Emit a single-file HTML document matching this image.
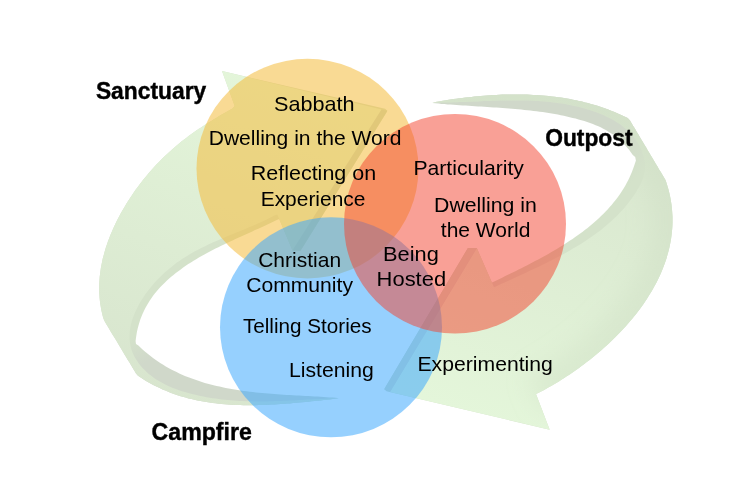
<!DOCTYPE html>
<html><head><meta charset="utf-8"><style>
html,body{margin:0;padding:0;background:#fff;width:750px;height:503px;overflow:hidden}
svg{display:block}
text{font-family:"Liberation Sans",sans-serif;fill:#000}
</style></head><body>
<svg width="750" height="503" viewBox="0 0 750 503">
<defs>
<linearGradient id="gR" gradientUnits="userSpaceOnUse" x1="600" y1="100" x2="480" y2="420">
<stop offset="0" stop-color="#d8e5ce"/><stop offset="1" stop-color="#e4f6da"/>
</linearGradient>
<linearGradient id="bR" gradientUnits="userSpaceOnUse" x1="610" y1="135" x2="645" y2="170">
<stop offset="0" stop-color="#d0d8ca"/><stop offset="1" stop-color="#d4e2ca"/>
</linearGradient>
<linearGradient id="gL" gradientUnits="userSpaceOnUse" x1="171.6" y1="400" x2="291.6" y2="80">
<stop offset="0" stop-color="#d8e5ce"/><stop offset="1" stop-color="#e4f6da"/>
</linearGradient>
<linearGradient id="bL" gradientUnits="userSpaceOnUse" x1="150" y1="360" x2="135" y2="335">
<stop offset="0" stop-color="#d0d8ca"/><stop offset="1" stop-color="#d4e2ca"/>
</linearGradient>
<clipPath id="cR"><path d="M432.4,103.1 L435.4,102.0 L438.4,101.5 L441.3,101.0 L444.3,100.5 L447.3,100.0 L450.3,99.6 L453.3,99.1 L456.3,98.7 L459.3,98.3 L462.3,97.9 L465.4,97.6 L468.4,97.2 L471.5,96.9 L474.5,96.5 L477.6,96.2 L480.7,96.0 L483.8,95.7 L486.8,95.5 L489.9,95.3 L493.0,95.1 L496.1,94.9 L499.2,94.8 L502.3,94.6 L505.4,94.6 L508.5,94.5 L511.6,94.4 L514.7,94.4 L517.8,94.4 L520.9,94.5 L524.0,94.5 L527.1,94.6 L530.2,94.7 L533.3,94.9 L536.4,95.1 L539.5,95.3 L542.6,95.5 L545.7,95.8 L548.7,96.1 L551.8,96.4 L554.9,96.8 L557.9,97.2 L561.0,97.6 L564.0,98.1 L567.0,98.6 L570.0,99.1 L573.0,99.7 L576.0,100.3 L579.0,100.9 L582.0,101.6 L585.0,102.4 L587.9,103.1 L590.9,103.9 L593.8,104.8 L596.7,105.6 L599.6,106.6 L602.5,107.5 L605.4,108.5 L608.2,109.6 L611.1,110.7 L613.9,111.8 L616.7,113.0 L619.5,114.2 L622.3,115.5 L625.0,116.8 L627.7,118.1 L630.0,120.5 L631.6,123.2 L633.2,125.9 L634.9,128.6 L636.5,131.4 L638.1,134.1 L639.7,136.8 L641.3,139.5 L643.0,142.2 L644.6,144.9 L646.2,147.6 L647.8,150.4 L649.4,153.1 L651.0,155.8 L652.7,158.5 L654.3,161.2 L655.9,163.9 L657.5,166.6 L659.1,169.4 L660.8,172.1 L662.4,174.8 L664.0,177.5 L665.5,179.9 L666.5,183.1 L667.5,186.2 L668.4,189.3 L669.2,192.4 L669.9,195.5 L670.5,198.5 L671.0,201.6 L671.5,204.7 L671.8,207.7 L672.1,210.8 L672.3,213.8 L672.5,216.8 L672.5,219.8 L672.5,222.8 L672.4,225.8 L672.2,228.8 L671.9,231.8 L671.6,234.7 L671.2,237.7 L670.8,240.6 L670.2,243.5 L669.6,246.4 L669.0,249.3 L668.2,252.2 L667.4,255.1 L666.6,257.9 L665.7,260.8 L664.7,263.6 L663.6,266.4 L662.5,269.2 L661.4,272.0 L660.2,274.7 L658.9,277.5 L657.6,280.2 L656.2,282.9 L654.8,285.6 L653.3,288.2 L651.8,290.9 L650.2,293.5 L648.6,296.1 L647.0,298.7 L645.3,301.3 L643.5,303.9 L641.7,306.4 L639.9,308.9 L638.0,311.4 L636.1,313.9 L634.2,316.3 L632.2,318.7 L630.2,321.1 L628.1,323.5 L626.0,325.9 L623.9,328.2 L621.8,330.5 L619.6,332.8 L617.4,335.1 L615.2,337.3 L612.9,339.5 L610.6,341.7 L608.3,343.9 L606.0,346.0 L603.7,348.1 L601.3,350.2 L598.9,352.2 L596.5,354.3 L594.1,356.3 L591.7,358.2 L589.2,360.2 L586.7,362.1 L584.3,364.0 L581.8,365.8 L579.3,367.7 L576.8,369.5 L574.3,371.2 L571.8,373.0 L569.3,374.7 L566.7,376.3 L564.2,378.0 L561.7,379.6 L559.2,381.2 L556.7,382.7 L554.1,384.2 L551.6,385.7 L549.1,387.1 L546.6,388.6 L544.1,389.9 L541.6,391.3 L539.1,392.6 L536.0,394.0 L549.7,429.7 L390.0,392.0 L476.8,248.0 L494.0,287.3 L496.9,286.1 L499.5,284.8 L502.1,283.6 L504.7,282.4 L507.4,281.2 L510.1,279.9 L512.8,278.7 L515.5,277.4 L518.2,276.2 L520.9,274.9 L523.7,273.7 L526.4,272.4 L529.2,271.1 L531.9,269.8 L534.7,268.5 L537.5,267.2 L540.2,265.9 L543.0,264.5 L545.8,263.2 L548.5,261.8 L551.3,260.4 L554.0,259.0 L556.8,257.6 L559.5,256.2 L562.2,254.7 L565.0,253.2 L567.7,251.7 L570.3,250.2 L573.0,248.6 L575.7,247.1 L578.3,245.5 L580.9,243.9 L583.5,242.2 L586.1,240.5 L588.6,238.8 L591.2,237.1 L593.6,235.3 L596.1,233.6 L598.5,231.7 L601.0,229.9 L603.3,228.0 L605.7,226.1 L608.0,224.1 L610.2,222.1 L612.5,220.1 L614.6,218.1 L616.8,216.0 L618.9,213.8 L620.9,211.6 L623.0,209.4 L624.9,207.2 L626.8,204.9 L628.7,202.5 L630.5,200.1 L632.3,197.7 L634.0,195.2 L635.7,192.7 L637.3,190.1 L638.8,187.5 L640.2,184.9 L641.5,182.2 L642.6,179.4 L643.6,176.7 L644.3,173.8 L644.9,171.0 L645.2,168.1 L645.2,165.2 L645.0,162.3 L644.5,159.3 L643.8,156.4 L642.9,153.5 L641.9,150.7 L640.6,147.9 L639.3,145.2 L637.7,142.7 L636.1,140.2 L634.4,137.8 L632.5,135.5 L630.5,133.3 L628.4,131.3 L626.3,129.3 L624.0,127.4 L621.7,125.6 L619.3,123.8 L616.8,122.2 L614.2,120.6 L611.6,119.1 L608.9,117.7 L606.2,116.4 L603.4,115.1 L600.6,113.9 L597.7,112.8 L594.8,111.8 L591.9,110.7 L589.0,109.8 L586.1,108.9 L583.1,108.1 L580.1,107.3 L577.2,106.6 L574.2,105.9 L571.2,105.3 L568.3,104.7 L565.3,104.1 L562.3,103.6 L559.3,103.2 L556.3,102.8 L553.3,102.4 L550.3,102.0 L547.3,101.7 L544.3,101.5 L541.3,101.2 L538.3,101.0 L535.3,100.9 L532.3,100.7 L529.2,100.6 L526.2,100.5 L523.2,100.4 L520.2,100.4 L517.2,100.4 L514.1,100.4 L511.1,100.4 L508.1,100.4 L505.0,100.5 L502.0,100.5 L499.0,100.6 L495.9,100.7 L492.9,100.8 L489.9,100.9 L486.8,101.0 L483.8,101.1 L480.8,101.3 L477.7,101.4 L474.7,101.5 L471.7,101.7 L468.6,101.8 L465.6,101.9 L462.6,102.0 L459.6,102.1 L456.5,102.2 L453.5,102.3 L450.5,102.4 L447.5,102.5 L444.4,102.6 L441.4,102.6 L438.4,102.6 L435.4,102.7 L432.4,103.1 Z"/></clipPath>
<clipPath id="cL"><path d="M338.8,398.2 L335.7,398.7 L332.7,399.1 L329.7,399.4 L326.7,399.7 L323.7,400.0 L320.6,400.4 L317.6,400.7 L314.6,401.0 L311.5,401.3 L308.5,401.7 L305.4,402.0 L302.3,402.3 L299.2,402.6 L296.2,402.8 L293.1,403.1 L290.0,403.4 L286.9,403.6 L283.8,403.9 L280.7,404.1 L277.5,404.3 L274.4,404.5 L271.3,404.6 L268.2,404.8 L265.1,404.9 L262.0,405.0 L258.8,405.1 L255.7,405.2 L252.6,405.2 L249.5,405.2 L246.4,405.2 L243.3,405.2 L240.2,405.1 L237.1,405.0 L234.0,404.9 L230.9,404.7 L227.8,404.5 L224.7,404.3 L221.7,404.0 L218.6,403.7 L215.6,403.3 L212.5,403.0 L209.5,402.5 L206.4,402.1 L203.4,401.6 L200.4,401.0 L197.4,400.4 L194.4,399.8 L191.5,399.1 L188.5,398.4 L185.6,397.6 L182.6,396.7 L179.7,395.9 L176.8,394.9 L173.9,393.9 L171.1,392.9 L168.2,391.8 L165.4,390.6 L162.5,389.4 L159.7,388.1 L157.0,386.8 L154.2,385.4 L151.4,384.0 L148.7,382.4 L146.0,380.9 L143.3,379.2 L140.7,377.5 L138.0,375.7 L136.0,373.5 L134.4,370.8 L132.7,368.1 L131.1,365.3 L129.5,362.6 L127.8,359.9 L126.2,357.2 L124.5,354.5 L122.9,351.7 L121.3,349.0 L119.6,346.3 L118.0,343.6 L116.4,340.8 L114.7,338.1 L113.1,335.4 L111.4,332.7 L109.8,330.0 L108.2,327.2 L106.5,324.5 L104.9,321.8 L103.6,319.0 L102.7,316.0 L102.0,313.0 L101.3,309.9 L100.8,306.9 L100.3,303.9 L99.9,300.9 L99.6,297.9 L99.4,294.8 L99.2,291.8 L99.2,288.8 L99.2,285.8 L99.3,282.8 L99.5,279.7 L99.7,276.7 L100.1,273.7 L100.5,270.7 L100.9,267.8 L101.5,264.8 L102.1,261.8 L102.7,258.8 L103.5,255.9 L104.3,252.9 L105.1,250.0 L106.0,247.1 L107.0,244.2 L108.0,241.3 L109.1,238.4 L110.2,235.5 L111.4,232.7 L112.6,229.9 L113.9,227.0 L115.2,224.2 L116.5,221.5 L117.9,218.7 L119.4,216.0 L120.8,213.2 L122.4,210.5 L123.9,207.9 L125.5,205.2 L127.1,202.6 L128.8,200.0 L130.4,197.4 L132.1,194.9 L133.9,192.3 L135.6,189.8 L137.4,187.4 L139.2,184.9 L141.1,182.5 L143.0,180.1 L144.9,177.7 L146.8,175.4 L148.8,173.1 L150.8,170.8 L152.8,168.5 L154.8,166.3 L156.9,164.0 L159.0,161.9 L161.1,159.7 L163.3,157.6 L165.5,155.5 L167.7,153.4 L169.9,151.4 L172.1,149.4 L174.4,147.4 L176.7,145.4 L179.1,143.5 L181.4,141.6 L183.8,139.8 L186.2,137.9 L188.6,136.1 L191.1,134.3 L193.5,132.6 L196.0,130.8 L198.5,129.1 L201.1,127.4 L203.6,125.8 L206.2,124.1 L208.7,122.5 L211.3,120.9 L213.9,119.3 L216.6,117.7 L219.2,116.1 L221.8,114.6 L224.5,113.0 L227.2,111.5 L229.8,110.0 L232.5,108.5 L234.7,106.1 L222.0,71.1 L381.6,109.6 L292.5,250.5 L277.3,214.5 L274.4,215.6 L271.7,217.0 L269.0,218.3 L266.2,219.7 L263.5,221.0 L260.7,222.2 L257.9,223.5 L255.2,224.7 L252.4,225.9 L249.6,227.1 L246.9,228.2 L244.1,229.4 L241.3,230.5 L238.5,231.7 L235.7,232.8 L233.0,233.9 L230.2,235.1 L227.4,236.2 L224.7,237.4 L221.9,238.5 L219.2,239.7 L216.4,240.9 L213.7,242.1 L211.0,243.3 L208.3,244.6 L205.6,245.9 L202.9,247.2 L200.2,248.5 L197.5,249.9 L194.9,251.3 L192.3,252.8 L189.7,254.3 L187.1,255.9 L184.5,257.5 L182.0,259.1 L179.4,260.9 L176.9,262.6 L174.4,264.5 L172.0,266.4 L169.5,268.4 L167.1,270.4 L164.7,272.5 L162.4,274.7 L160.1,277.0 L157.8,279.3 L155.6,281.6 L153.5,284.0 L151.4,286.5 L149.3,289.0 L147.4,291.5 L145.5,294.1 L143.7,296.7 L142.0,299.4 L140.3,302.0 L138.8,304.7 L137.4,307.4 L136.0,310.2 L134.8,312.9 L133.7,315.7 L132.7,318.4 L131.8,321.2 L131.1,324.0 L130.5,326.7 L130.0,329.5 L129.7,332.2 L129.6,335.0 L129.5,337.7 L129.7,340.4 L130.0,343.0 L130.5,345.7 L131.1,348.3 L131.9,350.9 L132.9,353.4 L134.1,355.9 L135.5,358.4 L137.0,360.8 L138.6,363.2 L140.4,365.4 L142.3,367.7 L144.4,369.8 L146.6,371.9 L148.8,373.9 L151.2,375.8 L153.7,377.7 L156.2,379.4 L158.9,381.0 L161.6,382.6 L164.3,384.1 L167.2,385.4 L170.0,386.7 L172.9,388.0 L175.9,389.1 L178.9,390.2 L181.9,391.2 L185.0,392.1 L188.1,393.0 L191.1,393.8 L194.2,394.6 L197.3,395.3 L200.4,396.0 L203.5,396.6 L206.5,397.2 L209.6,397.7 L212.6,398.2 L215.7,398.6 L218.7,399.0 L221.7,399.4 L224.7,399.7 L227.7,400.0 L230.7,400.3 L233.7,400.5 L236.7,400.7 L239.7,400.9 L242.6,401.1 L245.6,401.2 L248.6,401.3 L251.5,401.3 L254.5,401.4 L257.5,401.4 L260.4,401.4 L263.4,401.4 L266.3,401.4 L269.3,401.3 L272.3,401.2 L275.2,401.1 L278.2,401.1 L281.2,400.9 L284.1,400.8 L287.1,400.7 L290.1,400.6 L293.1,400.4 L296.1,400.3 L299.1,400.1 L302.1,399.9 L305.1,399.8 L308.1,399.6 L311.1,399.5 L314.2,399.3 L317.2,399.2 L320.3,399.0 L323.3,398.9 L326.4,398.7 L329.5,398.6 L332.6,398.5 L335.7,398.4 L338.8,398.2 Z"/></clipPath>
<filter id="bl" x="-20%" y="-20%" width="140%" height="140%"><feGaussianBlur stdDeviation="12"/></filter>
</defs>
<rect width="750" height="503" fill="#fff"/>
<path d="M432.4,103.1 L435.4,102.0 L438.4,101.5 L441.3,101.0 L444.3,100.5 L447.3,100.0 L450.3,99.6 L453.3,99.1 L456.3,98.7 L459.3,98.3 L462.3,97.9 L465.4,97.6 L468.4,97.2 L471.5,96.9 L474.5,96.5 L477.6,96.2 L480.7,96.0 L483.8,95.7 L486.8,95.5 L489.9,95.3 L493.0,95.1 L496.1,94.9 L499.2,94.8 L502.3,94.6 L505.4,94.6 L508.5,94.5 L511.6,94.4 L514.7,94.4 L517.8,94.4 L520.9,94.5 L524.0,94.5 L527.1,94.6 L530.2,94.7 L533.3,94.9 L536.4,95.1 L539.5,95.3 L542.6,95.5 L545.7,95.8 L548.7,96.1 L551.8,96.4 L554.9,96.8 L557.9,97.2 L561.0,97.6 L564.0,98.1 L567.0,98.6 L570.0,99.1 L573.0,99.7 L576.0,100.3 L579.0,100.9 L582.0,101.6 L585.0,102.4 L587.9,103.1 L590.9,103.9 L593.8,104.8 L596.7,105.6 L599.6,106.6 L602.5,107.5 L605.4,108.5 L608.2,109.6 L611.1,110.7 L613.9,111.8 L616.7,113.0 L619.5,114.2 L622.3,115.5 L625.0,116.8 L627.7,118.1 L630.0,120.5 L631.6,123.2 L633.2,125.9 L634.9,128.6 L636.5,131.4 L638.1,134.1 L639.7,136.8 L641.3,139.5 L643.0,142.2 L644.6,144.9 L646.2,147.6 L647.8,150.4 L649.4,153.1 L651.0,155.8 L652.7,158.5 L654.3,161.2 L655.9,163.9 L657.5,166.6 L659.1,169.4 L660.8,172.1 L662.4,174.8 L664.0,177.5 L665.5,179.9 L666.5,183.1 L667.5,186.2 L668.4,189.3 L669.2,192.4 L669.9,195.5 L670.5,198.5 L671.0,201.6 L671.5,204.7 L671.8,207.7 L672.1,210.8 L672.3,213.8 L672.5,216.8 L672.5,219.8 L672.5,222.8 L672.4,225.8 L672.2,228.8 L671.9,231.8 L671.6,234.7 L671.2,237.7 L670.8,240.6 L670.2,243.5 L669.6,246.4 L669.0,249.3 L668.2,252.2 L667.4,255.1 L666.6,257.9 L665.7,260.8 L664.7,263.6 L663.6,266.4 L662.5,269.2 L661.4,272.0 L660.2,274.7 L658.9,277.5 L657.6,280.2 L656.2,282.9 L654.8,285.6 L653.3,288.2 L651.8,290.9 L650.2,293.5 L648.6,296.1 L647.0,298.7 L645.3,301.3 L643.5,303.9 L641.7,306.4 L639.9,308.9 L638.0,311.4 L636.1,313.9 L634.2,316.3 L632.2,318.7 L630.2,321.1 L628.1,323.5 L626.0,325.9 L623.9,328.2 L621.8,330.5 L619.6,332.8 L617.4,335.1 L615.2,337.3 L612.9,339.5 L610.6,341.7 L608.3,343.9 L606.0,346.0 L603.7,348.1 L601.3,350.2 L598.9,352.2 L596.5,354.3 L594.1,356.3 L591.7,358.2 L589.2,360.2 L586.7,362.1 L584.3,364.0 L581.8,365.8 L579.3,367.7 L576.8,369.5 L574.3,371.2 L571.8,373.0 L569.3,374.7 L566.7,376.3 L564.2,378.0 L561.7,379.6 L559.2,381.2 L556.7,382.7 L554.1,384.2 L551.6,385.7 L549.1,387.1 L546.6,388.6 L544.1,389.9 L541.6,391.3 L539.1,392.6 L536.0,394.0 L549.7,429.7 L386.5,391.3 L384.3,389.2 L385.4,387.0 L467.9,248.0 L476.8,248.0 L491.9,282.5 L494.8,281.2 L497.4,280.0 L500.0,278.7 L502.6,277.4 L505.2,276.1 L507.9,274.8 L510.5,273.5 L513.2,272.2 L515.9,270.9 L518.6,269.5 L521.4,268.2 L524.1,266.8 L526.8,265.4 L529.5,264.0 L532.3,262.6 L535.0,261.1 L537.8,259.7 L540.5,258.2 L543.2,256.7 L546.0,255.2 L548.7,253.7 L551.4,252.1 L554.1,250.5 L556.8,248.9 L559.5,247.3 L562.1,245.7 L564.8,244.0 L567.4,242.3 L570.0,240.6 L572.6,238.9 L575.2,237.1 L577.7,235.3 L580.2,233.5 L582.7,231.7 L585.1,229.8 L587.6,227.9 L589.9,226.0 L592.3,224.0 L594.6,222.0 L596.9,220.0 L599.1,217.9 L601.3,215.8 L603.5,213.7 L605.6,211.5 L607.6,209.4 L609.7,207.1 L611.6,204.9 L613.5,202.6 L615.4,200.2 L617.2,197.9 L619.0,195.5 L620.7,193.0 L622.3,190.5 L623.9,188.0 L625.4,185.4 L626.8,182.8 L628.2,180.2 L629.5,177.5 L630.7,174.7 L631.9,171.9 L633.0,169.1 L634.0,166.2 L635.0,163.3 L635.9,160.4 L635.2,157.0 L632.8,155.0 L631.0,152.4 L629.1,149.8 L627.1,147.4 L625.0,145.1 L622.9,142.9 L620.7,140.8 L618.5,138.8 L616.2,136.9 L613.8,135.1 L611.4,133.5 L608.9,131.9 L606.3,130.3 L603.7,128.9 L601.1,127.6 L598.4,126.3 L595.6,125.2 L592.9,124.1 L590.0,123.0 L587.2,122.1 L584.3,121.1 L581.4,120.3 L578.5,119.4 L575.6,118.6 L572.6,117.9 L569.7,117.2 L566.7,116.5 L563.8,115.8 L560.8,115.2 L557.8,114.6 L554.8,114.1 L551.7,113.6 L548.7,113.0 L545.7,112.6 L542.7,112.1 L539.6,111.7 L536.6,111.3 L533.5,110.9 L530.4,110.5 L527.4,110.2 L524.3,109.9 L521.2,109.6 L518.1,109.3 L515.1,109.0 L512.0,108.7 L508.9,108.5 L505.8,108.2 L502.7,108.0 L499.6,107.8 L496.5,107.6 L493.4,107.4 L490.3,107.2 L487.3,107.0 L484.2,106.8 L481.1,106.6 L478.0,106.4 L474.9,106.2 L471.9,106.0 L468.8,105.8 L465.7,105.6 L462.7,105.4 L459.6,105.2 L456.6,105.0 L453.6,104.8 L450.5,104.6 L447.5,104.4 L444.5,104.1 L441.5,103.9 L438.5,103.6 L435.5,103.3 L432.4,103.1 Z" fill="url(#bR)"/>
<path id="faceR" d="M432.4,103.1 L435.4,102.0 L438.4,101.5 L441.3,101.0 L444.3,100.5 L447.3,100.0 L450.3,99.6 L453.3,99.1 L456.3,98.7 L459.3,98.3 L462.3,97.9 L465.4,97.6 L468.4,97.2 L471.5,96.9 L474.5,96.5 L477.6,96.2 L480.7,96.0 L483.8,95.7 L486.8,95.5 L489.9,95.3 L493.0,95.1 L496.1,94.9 L499.2,94.8 L502.3,94.6 L505.4,94.6 L508.5,94.5 L511.6,94.4 L514.7,94.4 L517.8,94.4 L520.9,94.5 L524.0,94.5 L527.1,94.6 L530.2,94.7 L533.3,94.9 L536.4,95.1 L539.5,95.3 L542.6,95.5 L545.7,95.8 L548.7,96.1 L551.8,96.4 L554.9,96.8 L557.9,97.2 L561.0,97.6 L564.0,98.1 L567.0,98.6 L570.0,99.1 L573.0,99.7 L576.0,100.3 L579.0,100.9 L582.0,101.6 L585.0,102.4 L587.9,103.1 L590.9,103.9 L593.8,104.8 L596.7,105.6 L599.6,106.6 L602.5,107.5 L605.4,108.5 L608.2,109.6 L611.1,110.7 L613.9,111.8 L616.7,113.0 L619.5,114.2 L622.3,115.5 L625.0,116.8 L627.7,118.1 L630.0,120.5 L631.6,123.2 L633.2,125.9 L634.9,128.6 L636.5,131.4 L638.1,134.1 L639.7,136.8 L641.3,139.5 L643.0,142.2 L644.6,144.9 L646.2,147.6 L647.8,150.4 L649.4,153.1 L651.0,155.8 L652.7,158.5 L654.3,161.2 L655.9,163.9 L657.5,166.6 L659.1,169.4 L660.8,172.1 L662.4,174.8 L664.0,177.5 L665.5,179.9 L666.5,183.1 L667.5,186.2 L668.4,189.3 L669.2,192.4 L669.9,195.5 L670.5,198.5 L671.0,201.6 L671.5,204.7 L671.8,207.7 L672.1,210.8 L672.3,213.8 L672.5,216.8 L672.5,219.8 L672.5,222.8 L672.4,225.8 L672.2,228.8 L671.9,231.8 L671.6,234.7 L671.2,237.7 L670.8,240.6 L670.2,243.5 L669.6,246.4 L669.0,249.3 L668.2,252.2 L667.4,255.1 L666.6,257.9 L665.7,260.8 L664.7,263.6 L663.6,266.4 L662.5,269.2 L661.4,272.0 L660.2,274.7 L658.9,277.5 L657.6,280.2 L656.2,282.9 L654.8,285.6 L653.3,288.2 L651.8,290.9 L650.2,293.5 L648.6,296.1 L647.0,298.7 L645.3,301.3 L643.5,303.9 L641.7,306.4 L639.9,308.9 L638.0,311.4 L636.1,313.9 L634.2,316.3 L632.2,318.7 L630.2,321.1 L628.1,323.5 L626.0,325.9 L623.9,328.2 L621.8,330.5 L619.6,332.8 L617.4,335.1 L615.2,337.3 L612.9,339.5 L610.6,341.7 L608.3,343.9 L606.0,346.0 L603.7,348.1 L601.3,350.2 L598.9,352.2 L596.5,354.3 L594.1,356.3 L591.7,358.2 L589.2,360.2 L586.7,362.1 L584.3,364.0 L581.8,365.8 L579.3,367.7 L576.8,369.5 L574.3,371.2 L571.8,373.0 L569.3,374.7 L566.7,376.3 L564.2,378.0 L561.7,379.6 L559.2,381.2 L556.7,382.7 L554.1,384.2 L551.6,385.7 L549.1,387.1 L546.6,388.6 L544.1,389.9 L541.6,391.3 L539.1,392.6 L536.0,394.0 L549.7,429.7 L390.0,392.0 L476.8,248.0 L494.0,287.3 L496.9,286.1 L499.5,284.8 L502.1,283.6 L504.7,282.4 L507.4,281.2 L510.1,279.9 L512.8,278.7 L515.5,277.4 L518.2,276.2 L520.9,274.9 L523.7,273.7 L526.4,272.4 L529.2,271.1 L531.9,269.8 L534.7,268.5 L537.5,267.2 L540.2,265.9 L543.0,264.5 L545.8,263.2 L548.5,261.8 L551.3,260.4 L554.0,259.0 L556.8,257.6 L559.5,256.2 L562.2,254.7 L565.0,253.2 L567.7,251.7 L570.3,250.2 L573.0,248.6 L575.7,247.1 L578.3,245.5 L580.9,243.9 L583.5,242.2 L586.1,240.5 L588.6,238.8 L591.2,237.1 L593.6,235.3 L596.1,233.6 L598.5,231.7 L601.0,229.9 L603.3,228.0 L605.7,226.1 L608.0,224.1 L610.2,222.1 L612.5,220.1 L614.6,218.1 L616.8,216.0 L618.9,213.8 L620.9,211.6 L623.0,209.4 L624.9,207.2 L626.8,204.9 L628.7,202.5 L630.5,200.1 L632.3,197.7 L634.0,195.2 L635.7,192.7 L637.3,190.1 L638.8,187.5 L640.2,184.9 L641.5,182.2 L642.6,179.4 L643.6,176.7 L644.3,173.8 L644.9,171.0 L645.2,168.1 L645.2,165.2 L645.0,162.3 L644.5,159.3 L643.8,156.4 L642.9,153.5 L641.9,150.7 L640.6,147.9 L639.3,145.2 L637.7,142.7 L636.1,140.2 L634.4,137.8 L632.5,135.5 L630.5,133.3 L628.4,131.3 L626.3,129.3 L624.0,127.4 L621.7,125.6 L619.3,123.8 L616.8,122.2 L614.2,120.6 L611.6,119.1 L608.9,117.7 L606.2,116.4 L603.4,115.1 L600.6,113.9 L597.7,112.8 L594.8,111.8 L591.9,110.7 L589.0,109.8 L586.1,108.9 L583.1,108.1 L580.1,107.3 L577.2,106.6 L574.2,105.9 L571.2,105.3 L568.3,104.7 L565.3,104.1 L562.3,103.6 L559.3,103.2 L556.3,102.8 L553.3,102.4 L550.3,102.0 L547.3,101.7 L544.3,101.5 L541.3,101.2 L538.3,101.0 L535.3,100.9 L532.3,100.7 L529.2,100.6 L526.2,100.5 L523.2,100.4 L520.2,100.4 L517.2,100.4 L514.1,100.4 L511.1,100.4 L508.1,100.4 L505.0,100.5 L502.0,100.5 L499.0,100.6 L495.9,100.7 L492.9,100.8 L489.9,100.9 L486.8,101.0 L483.8,101.1 L480.8,101.3 L477.7,101.4 L474.7,101.5 L471.7,101.7 L468.6,101.8 L465.6,101.9 L462.6,102.0 L459.6,102.1 L456.5,102.2 L453.5,102.3 L450.5,102.4 L447.5,102.5 L444.4,102.6 L441.4,102.6 L438.4,102.6 L435.4,102.7 L432.4,103.1 Z" fill="url(#gR)"/>
<g clip-path="url(#cR)"><path d="M432.4,103.1 L435.4,102.0 L438.4,101.5 L441.3,101.0 L444.3,100.5 L447.3,100.0 L450.3,99.6 L453.3,99.1 L456.3,98.7 L459.3,98.3 L462.3,97.9 L465.4,97.6 L468.4,97.2 L471.5,96.9 L474.5,96.5 L477.6,96.2 L480.7,96.0 L483.8,95.7 L486.8,95.5 L489.9,95.3 L493.0,95.1 L496.1,94.9 L499.2,94.8 L502.3,94.6 L505.4,94.6 L508.5,94.5 L511.6,94.4 L514.7,94.4 L517.8,94.4 L520.9,94.5 L524.0,94.5 L527.1,94.6 L530.2,94.7 L533.3,94.9 L536.4,95.1 L539.5,95.3 L542.6,95.5 L545.7,95.8 L548.7,96.1 L551.8,96.4 L554.9,96.8 L557.9,97.2 L561.0,97.6 L564.0,98.1 L567.0,98.6 L570.0,99.1 L573.0,99.7 L576.0,100.3 L579.0,100.9 L582.0,101.6 L585.0,102.4 L587.9,103.1 L590.9,103.9 L593.8,104.8 L596.7,105.6 L599.6,106.6 L602.5,107.5 L605.4,108.5 L608.2,109.6 L611.1,110.7 L613.9,111.8 L616.7,113.0 L619.5,114.2 L622.3,115.5 L625.0,116.8 L627.7,118.1 L630.0,120.5 L631.6,123.2 L633.2,125.9 L634.9,128.6 L636.5,131.4 L638.1,134.1 L639.7,136.8 L641.3,139.5 L643.0,142.2 L644.6,144.9 L646.2,147.6 L647.8,150.4 L649.4,153.1 L651.0,155.8 L652.7,158.5 L654.3,161.2 L655.9,163.9 L657.5,166.6 L659.1,169.4 L660.8,172.1 L662.4,174.8 L664.0,177.5 L665.5,179.9 L666.5,183.1 L667.5,186.2 L668.4,189.3 L669.2,192.4 L669.9,195.5 L670.5,198.5 L671.0,201.6 L671.5,204.7 L671.8,207.7 L672.1,210.8 L672.3,213.8 L672.5,216.8 L672.5,219.8 L672.5,222.8 L672.4,225.8 L672.2,228.8 L671.9,231.8 L671.6,234.7 L671.2,237.7 L670.8,240.6 L670.2,243.5 L669.6,246.4 L669.0,249.3 L668.2,252.2 L667.4,255.1 L666.6,257.9 L665.7,260.8 L664.7,263.6 L663.6,266.4 L662.5,269.2 L661.4,272.0 L660.2,274.7 L658.9,277.5 L657.6,280.2 L656.2,282.9 L654.8,285.6 L653.3,288.2 L651.8,290.9 L650.2,293.5 L648.6,296.1 L647.0,298.7 L645.3,301.3 L643.5,303.9 L641.7,306.4 L639.9,308.9 L638.0,311.4 L636.1,313.9 L634.2,316.3 L632.2,318.7 L630.2,321.1 L628.1,323.5 L626.0,325.9 L623.9,328.2 L621.8,330.5 L619.6,332.8 L617.4,335.1 L615.2,337.3 L612.9,339.5 L610.6,341.7 L608.3,343.9 L606.0,346.0 L603.7,348.1 L601.3,350.2 L598.9,352.2 L596.5,354.3 L594.1,356.3 L591.7,358.2 L589.2,360.2 L586.7,362.1 L584.3,364.0 L581.8,365.8 L579.3,367.7 L576.8,369.5 L574.3,371.2 L571.8,373.0 L569.3,374.7 L566.7,376.3 L564.2,378.0 L561.7,379.6 L559.2,381.2 L556.7,382.7 L554.1,384.2 L551.6,385.7 L549.1,387.1 L546.6,388.6 L544.1,389.9 L541.6,391.3 L539.1,392.6 L536.0,394.0" fill="none" stroke="#c8d6be" stroke-width="40" stroke-opacity="0.3" filter="url(#bl)"/></g>
<path d="M384.3,389.2 L467.9,248 L476.8,248 L390,392 Z" fill="#d2dccb"/>
<path d="M338.8,398.2 L335.7,398.7 L332.7,399.1 L329.7,399.4 L326.7,399.7 L323.7,400.0 L320.6,400.4 L317.6,400.7 L314.6,401.0 L311.5,401.3 L308.5,401.7 L305.4,402.0 L302.3,402.3 L299.2,402.6 L296.2,402.8 L293.1,403.1 L290.0,403.4 L286.9,403.6 L283.8,403.9 L280.7,404.1 L277.5,404.3 L274.4,404.5 L271.3,404.6 L268.2,404.8 L265.1,404.9 L262.0,405.0 L258.8,405.1 L255.7,405.2 L252.6,405.2 L249.5,405.2 L246.4,405.2 L243.3,405.2 L240.2,405.1 L237.1,405.0 L234.0,404.9 L230.9,404.7 L227.8,404.5 L224.7,404.3 L221.7,404.0 L218.6,403.7 L215.6,403.3 L212.5,403.0 L209.5,402.5 L206.4,402.1 L203.4,401.6 L200.4,401.0 L197.4,400.4 L194.4,399.8 L191.5,399.1 L188.5,398.4 L185.6,397.6 L182.6,396.7 L179.7,395.9 L176.8,394.9 L173.9,393.9 L171.1,392.9 L168.2,391.8 L165.4,390.6 L162.5,389.4 L159.7,388.1 L157.0,386.8 L154.2,385.4 L151.4,384.0 L148.7,382.4 L146.0,380.9 L143.3,379.2 L140.7,377.5 L138.0,375.7 L136.0,373.5 L134.4,370.8 L132.7,368.1 L131.1,365.3 L129.5,362.6 L127.8,359.9 L126.2,357.2 L124.5,354.5 L122.9,351.7 L121.3,349.0 L119.6,346.3 L118.0,343.6 L116.4,340.8 L114.7,338.1 L113.1,335.4 L111.4,332.7 L109.8,330.0 L108.2,327.2 L106.5,324.5 L104.9,321.8 L103.6,319.0 L102.7,316.0 L102.0,313.0 L101.3,309.9 L100.8,306.9 L100.3,303.9 L99.9,300.9 L99.6,297.9 L99.4,294.8 L99.2,291.8 L99.2,288.8 L99.2,285.8 L99.3,282.8 L99.5,279.7 L99.7,276.7 L100.1,273.7 L100.5,270.7 L100.9,267.8 L101.5,264.8 L102.1,261.8 L102.7,258.8 L103.5,255.9 L104.3,252.9 L105.1,250.0 L106.0,247.1 L107.0,244.2 L108.0,241.3 L109.1,238.4 L110.2,235.5 L111.4,232.7 L112.6,229.9 L113.9,227.0 L115.2,224.2 L116.5,221.5 L117.9,218.7 L119.4,216.0 L120.8,213.2 L122.4,210.5 L123.9,207.9 L125.5,205.2 L127.1,202.6 L128.8,200.0 L130.4,197.4 L132.1,194.9 L133.9,192.3 L135.6,189.8 L137.4,187.4 L139.2,184.9 L141.1,182.5 L143.0,180.1 L144.9,177.7 L146.8,175.4 L148.8,173.1 L150.8,170.8 L152.8,168.5 L154.8,166.3 L156.9,164.0 L159.0,161.9 L161.1,159.7 L163.3,157.6 L165.5,155.5 L167.7,153.4 L169.9,151.4 L172.1,149.4 L174.4,147.4 L176.7,145.4 L179.1,143.5 L181.4,141.6 L183.8,139.8 L186.2,137.9 L188.6,136.1 L191.1,134.3 L193.5,132.6 L196.0,130.8 L198.5,129.1 L201.1,127.4 L203.6,125.8 L206.2,124.1 L208.7,122.5 L211.3,120.9 L213.9,119.3 L216.6,117.7 L219.2,116.1 L221.8,114.6 L224.5,113.0 L227.2,111.5 L229.8,110.0 L232.5,108.5 L234.7,106.1 L222.0,71.1 L385.1,108.7 L387.3,110.8 L386.2,113.0 L300.5,250.8 L292.5,250.5 L279.2,219.0 L276.2,220.2 L273.7,221.4 L271.1,222.7 L268.5,223.9 L265.9,225.2 L263.2,226.4 L260.5,227.7 L257.8,228.9 L255.0,230.1 L252.3,231.4 L249.5,232.7 L246.7,233.9 L243.9,235.2 L241.1,236.5 L238.2,237.8 L235.4,239.1 L232.6,240.4 L229.7,241.7 L226.9,243.1 L224.0,244.4 L221.2,245.8 L218.4,247.2 L215.5,248.6 L212.7,250.1 L209.9,251.5 L207.1,253.0 L204.4,254.5 L201.6,256.1 L198.9,257.6 L196.2,259.2 L193.6,260.8 L190.9,262.5 L188.3,264.1 L185.7,265.8 L183.2,267.6 L180.7,269.4 L178.3,271.2 L175.8,273.0 L173.5,274.9 L171.2,276.8 L168.9,278.8 L166.7,280.8 L164.5,282.9 L162.4,285.0 L160.4,287.1 L158.4,289.3 L156.5,291.5 L154.6,293.8 L152.9,296.1 L151.2,298.5 L149.5,300.9 L148.0,303.4 L146.5,306.0 L145.1,308.6 L143.8,311.2 L142.5,313.9 L141.4,316.7 L140.3,319.5 L139.4,322.4 L138.5,325.4 L137.7,328.4 L137.0,331.5 L136.5,334.6 L136.0,337.8 L135.6,341.1 L136.0,344.0 L138.4,345.6 L140.7,347.8 L143.1,350.0 L145.5,352.1 L148.0,354.1 L150.5,356.0 L153.0,357.9 L155.5,359.8 L158.0,361.5 L160.6,363.2 L163.2,364.8 L165.8,366.4 L168.5,367.9 L171.2,369.4 L173.9,370.8 L176.6,372.1 L179.3,373.4 L182.1,374.7 L184.9,375.9 L187.7,377.0 L190.5,378.1 L193.3,379.1 L196.2,380.1 L199.1,381.1 L201.9,382.0 L204.8,382.9 L207.8,383.7 L210.7,384.5 L213.6,385.3 L216.6,386.0 L219.6,386.6 L222.6,387.3 L225.6,387.9 L228.6,388.5 L231.6,389.0 L234.6,389.5 L237.6,390.0 L240.7,390.5 L243.7,390.9 L246.8,391.3 L249.9,391.7 L252.9,392.1 L256.0,392.4 L259.1,392.7 L262.2,393.0 L265.3,393.3 L268.3,393.6 L271.4,393.8 L274.5,394.1 L277.6,394.3 L280.7,394.5 L283.8,394.7 L286.9,394.9 L290.0,395.1 L293.1,395.3 L296.2,395.4 L299.2,395.6 L302.3,395.8 L305.4,396.0 L308.5,396.1 L311.5,396.3 L314.6,396.5 L317.6,396.6 L320.7,396.8 L323.7,397.0 L326.7,397.2 L329.7,397.4 L332.7,397.6 L335.7,397.8 L338.8,398.2 Z" fill="url(#bL)"/>
<path d="M338.8,398.2 L335.7,398.7 L332.7,399.1 L329.7,399.4 L326.7,399.7 L323.7,400.0 L320.6,400.4 L317.6,400.7 L314.6,401.0 L311.5,401.3 L308.5,401.7 L305.4,402.0 L302.3,402.3 L299.2,402.6 L296.2,402.8 L293.1,403.1 L290.0,403.4 L286.9,403.6 L283.8,403.9 L280.7,404.1 L277.5,404.3 L274.4,404.5 L271.3,404.6 L268.2,404.8 L265.1,404.9 L262.0,405.0 L258.8,405.1 L255.7,405.2 L252.6,405.2 L249.5,405.2 L246.4,405.2 L243.3,405.2 L240.2,405.1 L237.1,405.0 L234.0,404.9 L230.9,404.7 L227.8,404.5 L224.7,404.3 L221.7,404.0 L218.6,403.7 L215.6,403.3 L212.5,403.0 L209.5,402.5 L206.4,402.1 L203.4,401.6 L200.4,401.0 L197.4,400.4 L194.4,399.8 L191.5,399.1 L188.5,398.4 L185.6,397.6 L182.6,396.7 L179.7,395.9 L176.8,394.9 L173.9,393.9 L171.1,392.9 L168.2,391.8 L165.4,390.6 L162.5,389.4 L159.7,388.1 L157.0,386.8 L154.2,385.4 L151.4,384.0 L148.7,382.4 L146.0,380.9 L143.3,379.2 L140.7,377.5 L138.0,375.7 L136.0,373.5 L134.4,370.8 L132.7,368.1 L131.1,365.3 L129.5,362.6 L127.8,359.9 L126.2,357.2 L124.5,354.5 L122.9,351.7 L121.3,349.0 L119.6,346.3 L118.0,343.6 L116.4,340.8 L114.7,338.1 L113.1,335.4 L111.4,332.7 L109.8,330.0 L108.2,327.2 L106.5,324.5 L104.9,321.8 L103.6,319.0 L102.7,316.0 L102.0,313.0 L101.3,309.9 L100.8,306.9 L100.3,303.9 L99.9,300.9 L99.6,297.9 L99.4,294.8 L99.2,291.8 L99.2,288.8 L99.2,285.8 L99.3,282.8 L99.5,279.7 L99.7,276.7 L100.1,273.7 L100.5,270.7 L100.9,267.8 L101.5,264.8 L102.1,261.8 L102.7,258.8 L103.5,255.9 L104.3,252.9 L105.1,250.0 L106.0,247.1 L107.0,244.2 L108.0,241.3 L109.1,238.4 L110.2,235.5 L111.4,232.7 L112.6,229.9 L113.9,227.0 L115.2,224.2 L116.5,221.5 L117.9,218.7 L119.4,216.0 L120.8,213.2 L122.4,210.5 L123.9,207.9 L125.5,205.2 L127.1,202.6 L128.8,200.0 L130.4,197.4 L132.1,194.9 L133.9,192.3 L135.6,189.8 L137.4,187.4 L139.2,184.9 L141.1,182.5 L143.0,180.1 L144.9,177.7 L146.8,175.4 L148.8,173.1 L150.8,170.8 L152.8,168.5 L154.8,166.3 L156.9,164.0 L159.0,161.9 L161.1,159.7 L163.3,157.6 L165.5,155.5 L167.7,153.4 L169.9,151.4 L172.1,149.4 L174.4,147.4 L176.7,145.4 L179.1,143.5 L181.4,141.6 L183.8,139.8 L186.2,137.9 L188.6,136.1 L191.1,134.3 L193.5,132.6 L196.0,130.8 L198.5,129.1 L201.1,127.4 L203.6,125.8 L206.2,124.1 L208.7,122.5 L211.3,120.9 L213.9,119.3 L216.6,117.7 L219.2,116.1 L221.8,114.6 L224.5,113.0 L227.2,111.5 L229.8,110.0 L232.5,108.5 L234.7,106.1 L222.0,71.1 L381.6,109.6 L292.5,250.5 L277.3,214.5 L274.4,215.6 L271.7,217.0 L269.0,218.3 L266.2,219.7 L263.5,221.0 L260.7,222.2 L257.9,223.5 L255.2,224.7 L252.4,225.9 L249.6,227.1 L246.9,228.2 L244.1,229.4 L241.3,230.5 L238.5,231.7 L235.7,232.8 L233.0,233.9 L230.2,235.1 L227.4,236.2 L224.7,237.4 L221.9,238.5 L219.2,239.7 L216.4,240.9 L213.7,242.1 L211.0,243.3 L208.3,244.6 L205.6,245.9 L202.9,247.2 L200.2,248.5 L197.5,249.9 L194.9,251.3 L192.3,252.8 L189.7,254.3 L187.1,255.9 L184.5,257.5 L182.0,259.1 L179.4,260.9 L176.9,262.6 L174.4,264.5 L172.0,266.4 L169.5,268.4 L167.1,270.4 L164.7,272.5 L162.4,274.7 L160.1,277.0 L157.8,279.3 L155.6,281.6 L153.5,284.0 L151.4,286.5 L149.3,289.0 L147.4,291.5 L145.5,294.1 L143.7,296.7 L142.0,299.4 L140.3,302.0 L138.8,304.7 L137.4,307.4 L136.0,310.2 L134.8,312.9 L133.7,315.7 L132.7,318.4 L131.8,321.2 L131.1,324.0 L130.5,326.7 L130.0,329.5 L129.7,332.2 L129.6,335.0 L129.5,337.7 L129.7,340.4 L130.0,343.0 L130.5,345.7 L131.1,348.3 L131.9,350.9 L132.9,353.4 L134.1,355.9 L135.5,358.4 L137.0,360.8 L138.6,363.2 L140.4,365.4 L142.3,367.7 L144.4,369.8 L146.6,371.9 L148.8,373.9 L151.2,375.8 L153.7,377.7 L156.2,379.4 L158.9,381.0 L161.6,382.6 L164.3,384.1 L167.2,385.4 L170.0,386.7 L172.9,388.0 L175.9,389.1 L178.9,390.2 L181.9,391.2 L185.0,392.1 L188.1,393.0 L191.1,393.8 L194.2,394.6 L197.3,395.3 L200.4,396.0 L203.5,396.6 L206.5,397.2 L209.6,397.7 L212.6,398.2 L215.7,398.6 L218.7,399.0 L221.7,399.4 L224.7,399.7 L227.7,400.0 L230.7,400.3 L233.7,400.5 L236.7,400.7 L239.7,400.9 L242.6,401.1 L245.6,401.2 L248.6,401.3 L251.5,401.3 L254.5,401.4 L257.5,401.4 L260.4,401.4 L263.4,401.4 L266.3,401.4 L269.3,401.3 L272.3,401.2 L275.2,401.1 L278.2,401.1 L281.2,400.9 L284.1,400.8 L287.1,400.7 L290.1,400.6 L293.1,400.4 L296.1,400.3 L299.1,400.1 L302.1,399.9 L305.1,399.8 L308.1,399.6 L311.1,399.5 L314.2,399.3 L317.2,399.2 L320.3,399.0 L323.3,398.9 L326.4,398.7 L329.5,398.6 L332.6,398.5 L335.7,398.4 L338.8,398.2 Z" fill="url(#gL)"/>
<path d="M387.3,110.8 L300.5,250.8 L292.5,250.5 L381.6,109.6 Z" fill="#cbd8c4"/>

<ellipse cx="307.5" cy="168.6" rx="111" ry="109.8" fill="#f4bc3c" fill-opacity="0.55"/>
<ellipse cx="331" cy="327.3" rx="111" ry="110" fill="#40aafd" fill-opacity="0.55"/>
<ellipse cx="455" cy="223.8" rx="111" ry="109.8" fill="#f3412d" fill-opacity="0.5"/>
<g style="will-change:transform">
<text x="274.0" y="110.7" font-size="21.0" font-weight="normal" textLength="80.6" lengthAdjust="spacingAndGlyphs">Sabbath</text>
<text x="208.7" y="144.5" font-size="21.0" font-weight="normal" textLength="192.8" lengthAdjust="spacingAndGlyphs">Dwelling in the Word</text>
<text x="250.7" y="180.2" font-size="21.0" font-weight="normal" textLength="125.5" lengthAdjust="spacingAndGlyphs">Reflecting on</text>
<text x="260.7" y="205.9" font-size="21.0" font-weight="normal" textLength="104.7" lengthAdjust="spacingAndGlyphs">Experience</text>
<text x="413.4" y="174.5" font-size="21.0" font-weight="normal" textLength="110.5" lengthAdjust="spacingAndGlyphs">Particularity</text>
<text x="434.1" y="211.8" font-size="21.0" font-weight="normal" textLength="102.8" lengthAdjust="spacingAndGlyphs">Dwelling in</text>
<text x="440.8" y="237.2" font-size="21.0" font-weight="normal" textLength="89.6" lengthAdjust="spacingAndGlyphs">the World</text>
<text x="258.2" y="266.9" font-size="21.0" font-weight="normal" textLength="82.9" lengthAdjust="spacingAndGlyphs">Christian</text>
<text x="246.2" y="292.3" font-size="21.0" font-weight="normal" textLength="106.8" lengthAdjust="spacingAndGlyphs">Community</text>
<text x="383.1" y="260.8" font-size="21.0" font-weight="normal" textLength="55.7" lengthAdjust="spacingAndGlyphs">Being</text>
<text x="376.6" y="286.1" font-size="21.0" font-weight="normal" textLength="69.5" lengthAdjust="spacingAndGlyphs">Hosted</text>
<text x="242.9" y="333.4" font-size="21.0" font-weight="normal" textLength="128.7" lengthAdjust="spacingAndGlyphs">Telling Stories</text>
<text x="289.0" y="376.6" font-size="21.0" font-weight="normal" textLength="84.8" lengthAdjust="spacingAndGlyphs">Listening</text>
<text x="417.5" y="370.6" font-size="21.0" font-weight="normal" textLength="135.3" lengthAdjust="spacingAndGlyphs">Experimenting</text>
<text x="95.9" y="99.3" font-size="23.5" font-weight="bold" textLength="110.4" lengthAdjust="spacingAndGlyphs" stroke="#000" stroke-width="0.4">Sanctuary</text>
<text x="545.2" y="145.8" font-size="23.5" font-weight="bold" textLength="87.4" lengthAdjust="spacingAndGlyphs" stroke="#000" stroke-width="0.4">Outpost</text>
<text x="151.6" y="439.8" font-size="23.5" font-weight="bold" textLength="100.3" lengthAdjust="spacingAndGlyphs" stroke="#000" stroke-width="0.4">Campfire</text>
</g>
</svg>
</body></html>
